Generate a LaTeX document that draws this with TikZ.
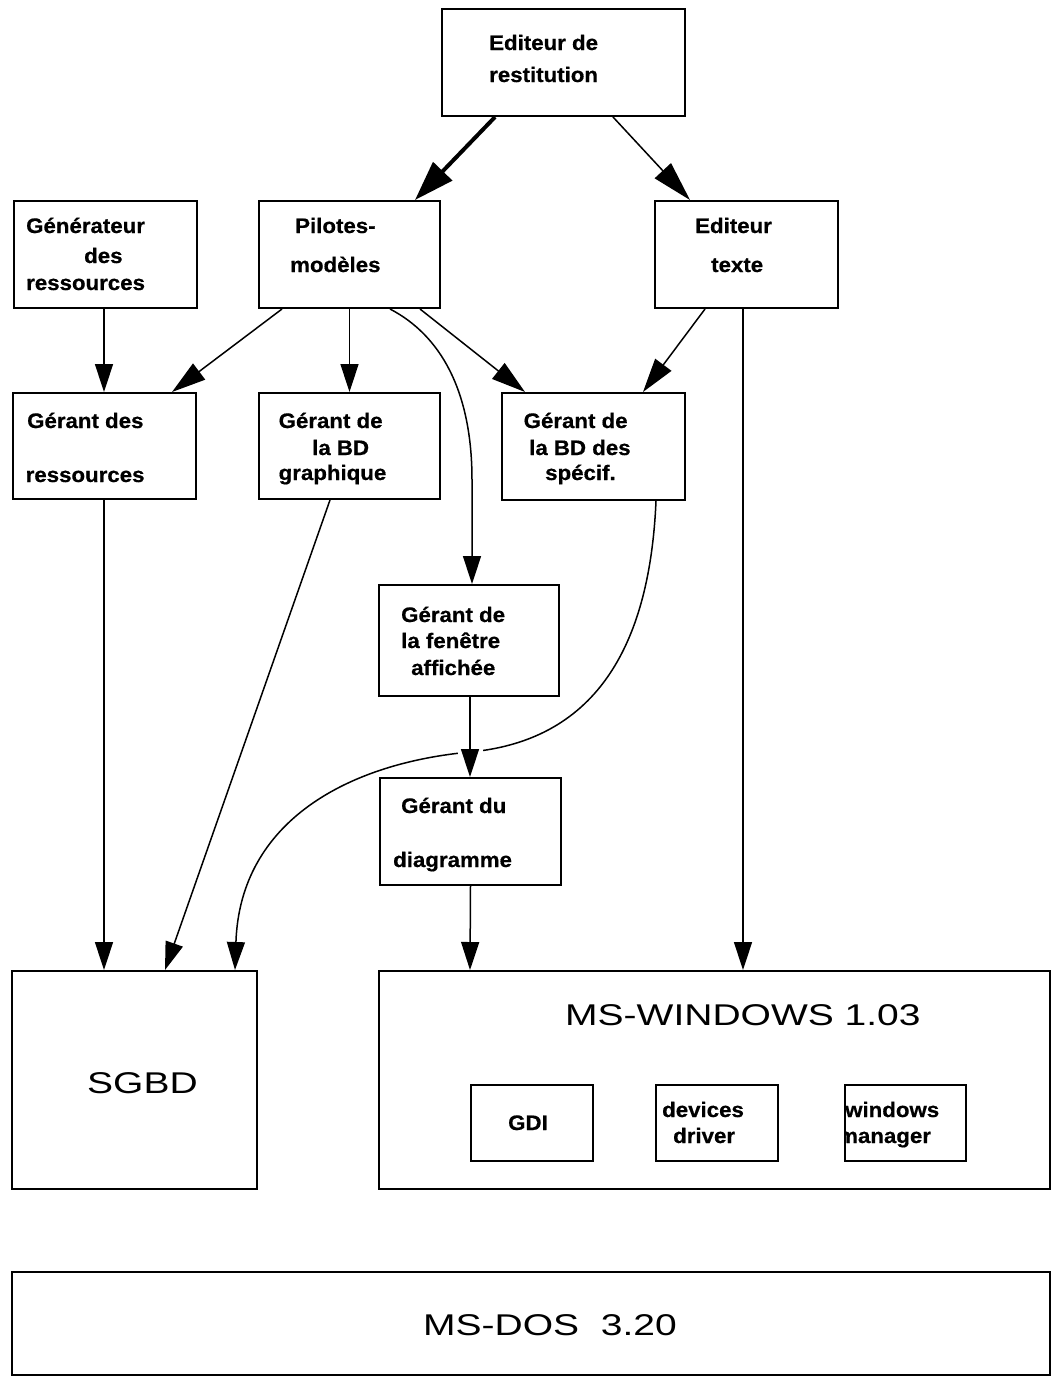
\documentclass[tikz,border=0pt]{standalone}
\usepackage{fontspec}
\usetikzlibrary{arrows.meta}
\newfontfamily\smallbf[FakeStretch=1.06,FakeBold=0.6]{Liberation Sans}
\newfontfamily\bigsf[FakeStretch=1.3]{Liberation Sans}
\tikzset{
  box/.style={draw, line width=2pt, inner sep=0pt, rectangle},
  lbl/.style={anchor=base west, inner sep=0pt, font=\smallbf\bfseries\fontsize{21}{21}\selectfont},
  big/.style={anchor=base west, inner sep=0pt, font=\bigsf\fontsize{30}{30}\selectfont},
  link/.style={line width=1.5pt, -{Triangle[length=28pt,width=18pt]}},
  dlink/.style={line width=1.5pt, -{Triangle[length=34pt,width=20pt]}},
  toplink/.style={line width=1.5pt, -{Triangle[length=40pt,width=22pt]}},
  thicklink/.style={line width=4pt, -{Triangle[length=40pt,width=26pt]}}
}
\begin{document}
\begin{tikzpicture}[x=1pt,y=-1pt]
\useasboundingbox (0,0) rectangle (1052,1377);
\fill[white] (0,0) rectangle (1052,1377);
% boxes
\node[box, minimum width=243pt, minimum height=107pt] (er) at (563.5,62.5) {};
\node[box, minimum width=183pt, minimum height=107pt] (gen) at (105.5,254.5) {};
\node[box, minimum width=181pt, minimum height=107pt] (pil) at (349.5,254.5) {};
\node[box, minimum width=183pt, minimum height=107pt] (edt) at (746.5,254.5) {};
\node[box, minimum width=183pt, minimum height=106pt] (gres) at (104.5,446) {};
\node[box, minimum width=181pt, minimum height=106pt] (gbdg) at (349.5,446) {};
\node[box, minimum width=183pt, minimum height=107pt] (gbds) at (593.5,446.5) {};
\node[box, minimum width=180pt, minimum height=111pt] (gfen) at (469,640.5) {};
\node[box, minimum width=181pt, minimum height=107pt] (gdia) at (470.5,831.5) {};
\node[box, minimum width=245pt, minimum height=218pt] (sgbd) at (134.5,1080) {};
\node[box, minimum width=671pt, minimum height=218pt] (win) at (714.5,1080) {};
\node[box, minimum width=122pt, minimum height=76pt] (gdi) at (532,1123) {};
\node[box, minimum width=122pt, minimum height=76pt] (dev) at (717,1123) {};
\node[box, minimum width=1038pt, minimum height=103pt] (dos) at (531,1323.5) {};
% texts
\node[lbl] (t1a) at (489,50) {Editeur de};
\node[lbl] (t1b) at (489,82) {restitution};
\node[lbl] (t2a) at (26,233) {Générateur};
\node[lbl] (t2b) at (84,263) {des};
\node[lbl] (t2c) at (26,290) {ressources};
\node[lbl] (t3a) at (295,233) {Pilotes-};
\node[lbl] (t3b) at (290,272) {modèles};
\node[lbl] (t4a) at (695,233) {Editeur};
\node[lbl] (t4b) at (711,272) {texte};
\node[lbl] (t5a) at (27,428) {Gérant des};
\node[lbl] (t5b) at (25.5,482) {ressources};
\node[lbl] (t6a) at (278.5,428) {Gérant de};
\node[lbl] (t6b) at (312,455) {la BD};
\node[lbl] (t6c) at (278.5,480) {graphique};
\node[lbl] (t7a) at (523.5,428) {Gérant de};
\node[lbl] (t7b) at (529,455) {la BD des};
\node[lbl] (t7c) at (545,480) {spécif.};
\node[lbl] (t8a) at (401,622) {Gérant de};
\node[lbl] (t8b) at (401,648) {la fenêtre};
\node[lbl] (t8c) at (411,675) {affichée};
\node[lbl] (t9a) at (401,813) {Gérant du};
\node[lbl] (t9b) at (393,867) {diagramme};
\node[lbl] (t10) at (508,1130) {GDI};
\node[lbl] (t11a) at (662,1117) {devices};
\node[lbl] (t11b) at (673,1143) {driver};
\begin{scope}
\clip (845,1085) rectangle (966,1161);
\node[lbl] (t12a) at (845,1117) {windows};
\node[lbl] (t12b) at (838,1143) {manager};
\end{scope}
\node[box, minimum width=121pt, minimum height=76pt] (wm) at (905.5,1123) {};
\node[big] (t13) at (565,1025) {MS-WINDOWS 1.03};
\node[big] (t14) at (87,1093) {SGBD};
\node[big] (t15) at (423,1335) {MS-DOS\ \ 3.20};
% connectors
\draw[thicklink] ([xshift=-68.5pt]er.south) -- ([xshift=65.5pt]pil.north);
\draw[toplink] ([xshift=49.5pt]er.south) -- ([xshift=-56.5pt]edt.north);
\draw[link] ([xshift=-1.5pt]gen.south) -- ([xshift=-0.5pt]gres.north);
\draw[dlink] ([xshift=-67.5pt]pil.south) -- ([xshift=67.5pt]gres.north);
\draw[link] (pil.south) -- (gbdg.north);
\draw[dlink] ([xshift=70.5pt]pil.south) -- ([xshift=-68.5pt]gbds.north);
\draw[link] ([xshift=40.5pt]pil.south) .. controls (440,335) and (472,390) .. (472,480) -- ([xshift=3pt]gfen.north);
\draw[dlink] ([xshift=-41.5pt]edt.south) -- ([xshift=49.5pt]gbds.north);
\draw[link] ([xshift=-3.5pt]edt.south) -- ([xshift=28.5pt]win.north);
\draw[link] ([xshift=-0.5pt]gres.south) -- ([xshift=-30.5pt]sgbd.north);
\draw[link] ([xshift=-19.5pt]gbdg.south) -- ([xshift=30.5pt]sgbd.north);
\draw[link] ([xshift=62.5pt]gbds.south) .. controls (650,640) and (600,740) .. (470,752) .. controls (350,763) and (240,820) .. ([xshift=100.5pt]sgbd.north);
\fill[white] (458,744) rectangle (483,762);
\draw[link] ([xshift=1pt]gfen.south) -- ([xshift=-0.5pt]gdia.north);
\draw[link] (gdia.south) -- ([xshift=-244.5pt]win.north);
\end{tikzpicture}
\end{document}
